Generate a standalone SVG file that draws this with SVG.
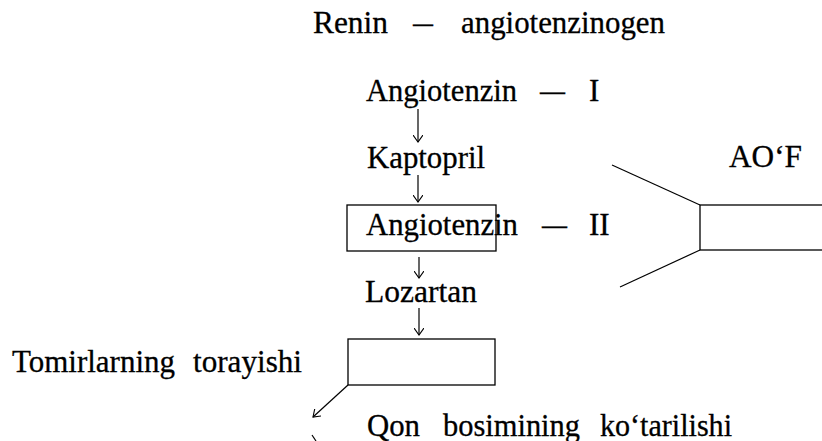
<svg xmlns="http://www.w3.org/2000/svg" width="822" height="441" viewBox="0 0 822 441">
<style>
.t{font-family:'Liberation Serif','Times New Roman',serif;font-size:31px;fill:#000;stroke:#000;stroke-width:0.3}
.ln{stroke:#000;stroke-width:1.2;fill:none}
.box{stroke:#000;stroke-width:1.3;fill:none}
</style>
<defs>
<marker id="ah" viewBox="0 0 10 10" refX="7" refY="5" markerWidth="10" markerHeight="10" markerUnits="userSpaceOnUse" orient="auto">
<path d="M0,0 L7,5 L0,10" fill="none" stroke="#000" stroke-width="1.1"/>
</marker>
</defs>
<rect width="822" height="441" fill="#fff"/>
<g class="t">
<g id="renin">
<text x="313" y="33" textLength="75" lengthAdjust="spacingAndGlyphs">Renin</text>
<text x="413" y="33" textLength="20" lengthAdjust="spacingAndGlyphs">—</text>
<text x="461" y="33" textLength="204" lengthAdjust="spacingAndGlyphs">angiotenzinogen</text>
</g>
<g id="angiotenzin1">
<text x="366" y="101" textLength="151" lengthAdjust="spacingAndGlyphs">Angiotenzin</text>
<text x="540" y="101" textLength="25" lengthAdjust="spacingAndGlyphs">—</text>
<text x="589" y="101">I</text>
</g>
<g id="kaptopril">
<text x="367" y="168" textLength="118" lengthAdjust="spacingAndGlyphs">Kaptopril</text>
</g>
<g id="aof">
<text x="729" y="167" textLength="73" lengthAdjust="spacingAndGlyphs">AO‘F</text>
</g>
<g id="angiotenzin2">
<text x="366" y="235" textLength="152" lengthAdjust="spacingAndGlyphs">Angiotenzin</text>
<text x="542" y="235" textLength="25" lengthAdjust="spacingAndGlyphs">—</text>
<text x="589" y="235">II</text>
</g>
<g id="lozartan">
<text x="365" y="302" textLength="112" lengthAdjust="spacingAndGlyphs">Lozartan</text>
</g>
<g id="tomirlar">
<text x="12" y="372" textLength="163" lengthAdjust="spacingAndGlyphs">Tomirlarning</text>
<text x="193" y="372" textLength="109" lengthAdjust="spacingAndGlyphs">torayishi</text>
</g>
<g id="qon">
<text x="367" y="436" textLength="53" lengthAdjust="spacingAndGlyphs">Qon</text>
<text x="443" y="436" textLength="137" lengthAdjust="spacingAndGlyphs">bosimining</text>
<text x="600" y="436" textLength="132" lengthAdjust="spacingAndGlyphs">ko‘tarilishi</text>
</g>
</g>
<g id="box-angiotenzin2">
<rect class="box" x="347" y="205" width="149" height="46"/>
</g>
<g id="aof-shape">
<path class="ln" d="M612,165 L700,205"/>
<path class="ln" d="M700,250 L620,287"/>
<rect class="box" x="700" y="205" width="130" height="45"/>
</g>
<g id="box2">
<rect class="box" x="348" y="339" width="147" height="46"/>
</g>
<g id="connectors">
<path class="ln" d="M418,109 L418,142" marker-end="url(#ah)"/>
<path class="ln" d="M418,175 L418,202" marker-end="url(#ah)"/>
<path class="ln" d="M419,257 L419,278" marker-end="url(#ah)"/>
<path class="ln" d="M419,308 L419,335" marker-end="url(#ah)"/>
<path class="ln" d="M348,385 L313,417" marker-end="url(#ah)"/>
<path class="ln" d="M312,435 L316,441"/>
</g>
</svg>
